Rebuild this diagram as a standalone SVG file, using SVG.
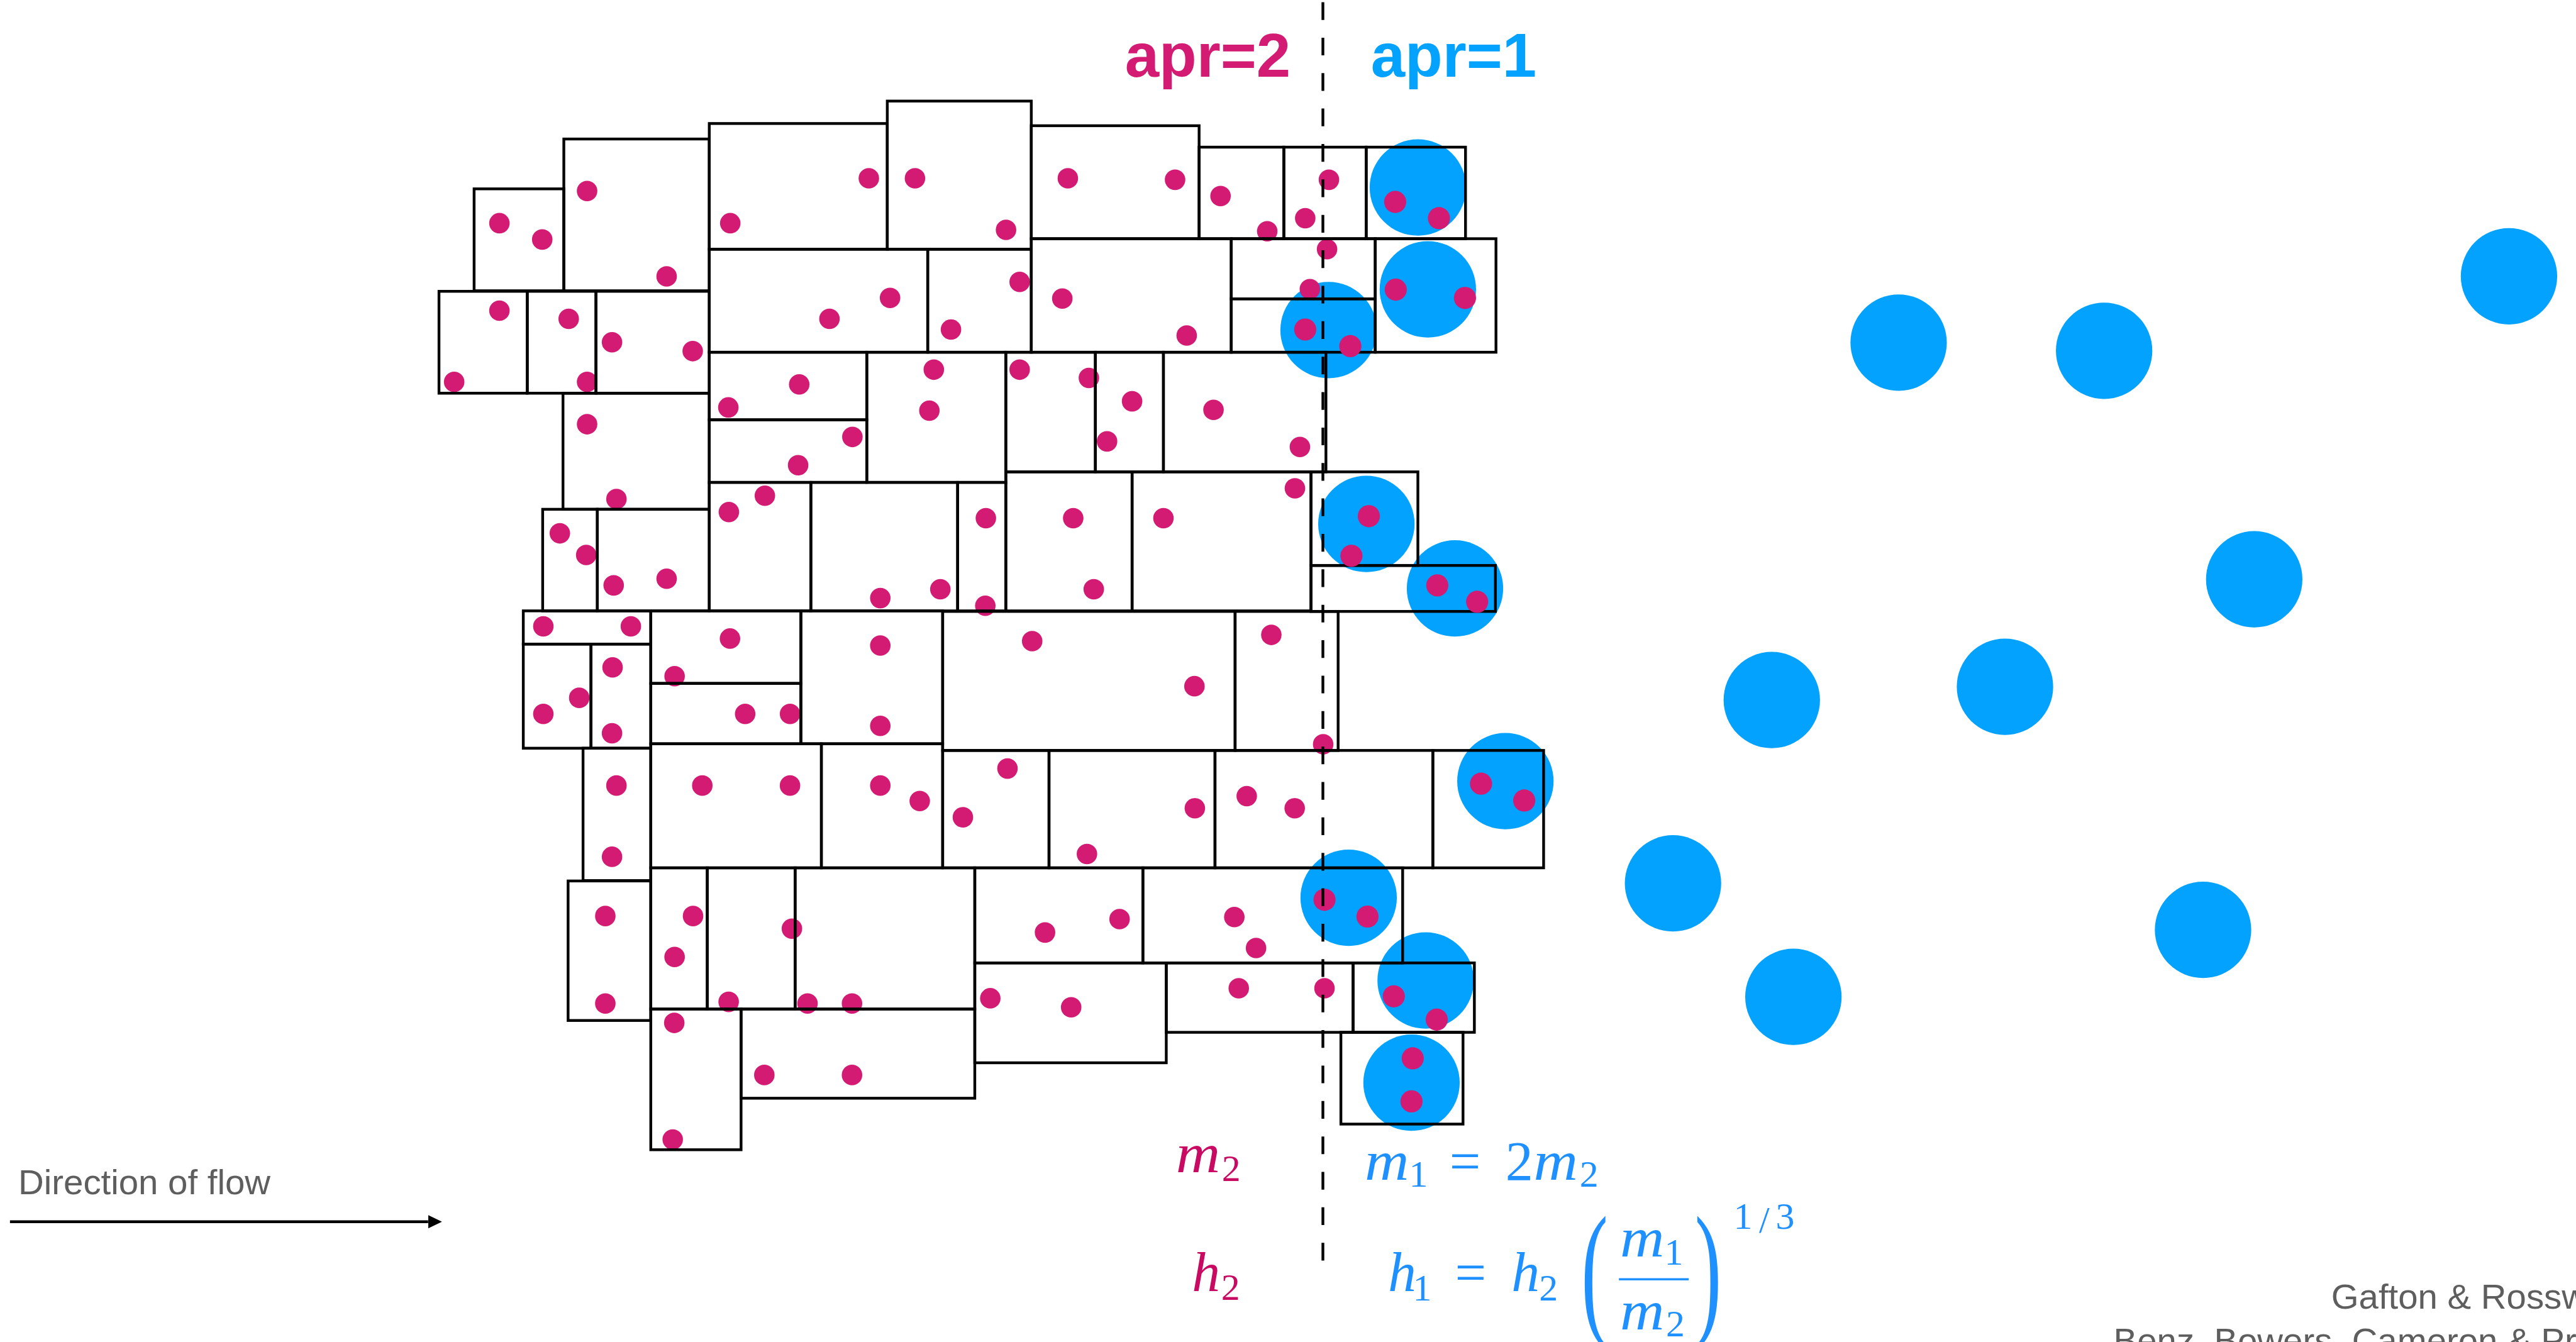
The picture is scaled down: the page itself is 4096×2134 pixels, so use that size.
<svg xmlns="http://www.w3.org/2000/svg" width="4096" height="2134" viewBox="0 0 4096 2134">
<style>
.cell{fill:none;stroke:#000;stroke-width:5}
.d{fill:#D41B73}
.bl{fill:#D41B73}
.big{fill:#02A2FE}
.lab{font-family:"Liberation Sans",Arial,sans-serif;font-weight:bold;font-size:111px}
.cap{font-family:"Liberation Sans",Arial,sans-serif;font-size:64px;fill:#5E5E5E}
.mi{font-family:"Liberation Serif","Times New Roman",serif;font-style:italic;font-size:102px}
.mn{font-family:"Liberation Serif","Times New Roman",serif;font-size:100px}
.sb{font-family:"Liberation Serif","Times New Roman",serif;font-size:68px}
.mg{fill:#C80A62}
.bu{fill:#1E90FF}
</style>
<defs>
<marker id="ah" markerUnits="userSpaceOnUse" markerWidth="26" markerHeight="26" refX="0" refY="12" orient="auto">
<path d="M0,0 L25,12 L0,24 Z" fill="#000"/>
</marker>
</defs>
<g transform="scale(0.880671)">
<g id="apr-labels">
<text id="apr2" class="lab" x="2031" y="139" fill="#D41B73">apr=2</text>
<text id="apr1" class="lab" x="2475" y="139" fill="#02A2FE">apr=1</text>
</g>
<g id="apr1-particles">
<circle class="big" cx="2560" cy="338.6" r="87"/>
<circle class="big" cx="2578" cy="522.5" r="87"/>
<circle class="big" cx="2398.7" cy="596" r="87"/>
<circle class="big" cx="2467" cy="946" r="87"/>
<circle class="big" cx="2627" cy="1062.5" r="87"/>
<circle class="big" cx="2718" cy="1410.5" r="87"/>
<circle class="big" cx="2435" cy="1621" r="87"/>
<circle class="big" cx="2574" cy="1770.4" r="87"/>
<circle class="big" cx="2548.5" cy="1955" r="87"/>
<circle class="big" cx="4530" cy="498.8" r="87"/>
<circle class="big" cx="3428" cy="618.7" r="87"/>
<circle class="big" cx="3799" cy="633.4" r="87"/>
<circle class="big" cx="4070" cy="1046" r="87"/>
<circle class="big" cx="3199" cy="1264" r="87"/>
<circle class="big" cx="3620" cy="1240" r="87"/>
<circle class="big" cx="3020.6" cy="1595" r="87"/>
<circle class="big" cx="3977.6" cy="1679" r="87"/>
<circle class="big" cx="3238" cy="1800" r="87"/>
</g>
<g id="apr2-particles">
<circle class="d" cx="901.7" cy="403" r="18.5"/>
<circle class="d" cx="979" cy="432.5" r="18.5"/>
<circle class="d" cx="1060" cy="345" r="18.5"/>
<circle class="d" cx="1203.6" cy="499" r="18.5"/>
<circle class="d" cx="1568.7" cy="322" r="18.5"/>
<circle class="d" cx="1652" cy="322" r="18.5"/>
<circle class="d" cx="1318.5" cy="403" r="18.5"/>
<circle class="d" cx="1607" cy="538" r="18.5"/>
<circle class="d" cx="1497.6" cy="575.7" r="18.5"/>
<circle class="d" cx="901.7" cy="561" r="18.5"/>
<circle class="d" cx="1026.8" cy="575.7" r="18.5"/>
<circle class="d" cx="1105" cy="618" r="18.5"/>
<circle class="d" cx="1250.7" cy="634" r="18.5"/>
<circle class="d" cx="820" cy="689.6" r="18.5"/>
<circle class="d" cx="1060" cy="689.6" r="18.5"/>
<circle class="d" cx="1443" cy="694" r="18.5"/>
<circle class="d" cx="1315" cy="735.7" r="18.5"/>
<circle class="d" cx="1928" cy="322" r="18.5"/>
<circle class="d" cx="2121.6" cy="324.6" r="18.5"/>
<circle class="d" cx="1816.4" cy="415" r="18.5"/>
<circle class="d" cx="2203.7" cy="354" r="18.5"/>
<circle class="d" cx="2288" cy="417.5" r="18.5"/>
<circle class="d" cx="2356.6" cy="394" r="18.5"/>
<circle class="d" cx="2399.4" cy="324.6" r="18.5"/>
<circle class="d" cx="2396" cy="450" r="18.5"/>
<circle class="d" cx="2365" cy="522" r="18.5"/>
<circle class="d" cx="1841" cy="509" r="18.5"/>
<circle class="d" cx="1918" cy="539" r="18.5"/>
<circle class="d" cx="1717" cy="595" r="18.5"/>
<circle class="d" cx="2142.6" cy="605.7" r="18.5"/>
<circle class="d" cx="1686" cy="667.5" r="18.5"/>
<circle class="d" cx="1841" cy="667.5" r="18.5"/>
<circle class="d" cx="1966" cy="682.5" r="18.5"/>
<circle class="d" cx="2044" cy="724.6" r="18.5"/>
<circle class="d" cx="2191" cy="740" r="18.5"/>
<circle class="d" cx="1678" cy="741.5" r="18.5"/>
<circle class="d" cx="1539" cy="789" r="18.5"/>
<circle class="d" cx="1441" cy="840" r="18.5"/>
<circle class="d" cx="1060" cy="766" r="18.5"/>
<circle class="d" cx="1113" cy="901" r="18.5"/>
<circle class="d" cx="1316" cy="924.5" r="18.5"/>
<circle class="d" cx="1381" cy="895" r="18.5"/>
<circle class="d" cx="1010.8" cy="963" r="18.5"/>
<circle class="d" cx="1058.4" cy="1002" r="18.5"/>
<circle class="d" cx="1108" cy="1057" r="18.5"/>
<circle class="d" cx="1203.6" cy="1045" r="18.5"/>
<circle class="d" cx="1589.4" cy="1080" r="18.5"/>
<circle class="d" cx="981" cy="1131" r="18.5"/>
<circle class="d" cx="1139" cy="1131" r="18.5"/>
<circle class="d" cx="1318" cy="1153" r="18.5"/>
<circle class="d" cx="1218" cy="1221" r="18.5"/>
<circle class="d" cx="1106" cy="1205" r="18.5"/>
<circle class="d" cx="1045.8" cy="1260" r="18.5"/>
<circle class="d" cx="981" cy="1289" r="18.5"/>
<circle class="d" cx="1105" cy="1324" r="18.5"/>
<circle class="d" cx="1345.4" cy="1289" r="18.5"/>
<circle class="d" cx="1426.4" cy="1289" r="18.5"/>
<circle class="d" cx="1589.4" cy="1165.6" r="18.5"/>
<circle class="d" cx="1589.4" cy="1310.7" r="18.5"/>
<circle class="d" cx="1998.8" cy="797" r="18.5"/>
<circle class="d" cx="2347" cy="807" r="18.5"/>
<circle class="d" cx="2338" cy="881.7" r="18.5"/>
<circle class="d" cx="1780" cy="935.7" r="18.5"/>
<circle class="d" cx="1937.7" cy="935.7" r="18.5"/>
<circle class="d" cx="2100.6" cy="935.7" r="18.5"/>
<circle class="d" cx="1697.8" cy="1064" r="18.5"/>
<circle class="d" cx="1779" cy="1093.7" r="18.5"/>
<circle class="d" cx="1974.8" cy="1064" r="18.5"/>
<circle class="d" cx="1863.6" cy="1157.6" r="18.5"/>
<circle class="d" cx="2156.6" cy="1239" r="18.5"/>
<circle class="d" cx="2295.4" cy="1146.4" r="18.5"/>
<circle class="d" cx="2389" cy="1343.8" r="18.5"/>
<circle class="d" cx="1819" cy="1387.7" r="18.5"/>
<circle class="d" cx="1113" cy="1418.4" r="18.5"/>
<circle class="d" cx="1268" cy="1418.4" r="18.5"/>
<circle class="d" cx="1426.4" cy="1418.4" r="18.5"/>
<circle class="d" cx="1589.4" cy="1418.4" r="18.5"/>
<circle class="d" cx="1660.6" cy="1446.4" r="18.5"/>
<circle class="d" cx="1105" cy="1547" r="18.5"/>
<circle class="d" cx="1092.9" cy="1654" r="18.5"/>
<circle class="d" cx="1092.9" cy="1812" r="18.5"/>
<circle class="d" cx="1251.3" cy="1654" r="18.5"/>
<circle class="d" cx="1218" cy="1728" r="18.5"/>
<circle class="d" cx="1429.8" cy="1676.8" r="18.5"/>
<circle class="d" cx="1315.6" cy="1809" r="18.5"/>
<circle class="d" cx="1458" cy="1812" r="18.5"/>
<circle class="d" cx="1538.3" cy="1812" r="18.5"/>
<circle class="d" cx="1217.4" cy="1847" r="18.5"/>
<circle class="d" cx="1380" cy="1941" r="18.5"/>
<circle class="d" cx="1538.3" cy="1941" r="18.5"/>
<circle class="d" cx="1214.6" cy="2057.6" r="18.5"/>
<circle class="d" cx="1738.5" cy="1475.7" r="18.5"/>
<circle class="d" cx="1962.5" cy="1542" r="18.5"/>
<circle class="d" cx="2157.3" cy="1459.4" r="18.5"/>
<circle class="d" cx="2251" cy="1437.5" r="18.5"/>
<circle class="d" cx="2337.6" cy="1459.4" r="18.5"/>
<circle class="d" cx="1886.8" cy="1683.8" r="18.5"/>
<circle class="d" cx="2021.4" cy="1659.6" r="18.5"/>
<circle class="d" cx="2228.6" cy="1655.9" r="18.5"/>
<circle class="d" cx="2267.8" cy="1711.7" r="18.5"/>
<circle class="d" cx="1788" cy="1802.5" r="18.5"/>
<circle class="d" cx="1934" cy="1818.8" r="18.5"/>
<circle class="d" cx="2236.6" cy="1784.4" r="18.5"/>
<circle class="d" cx="2391.4" cy="1784.4" r="18.5"/>
</g>
<g id="cells">
<rect class="cell" x="856" y="341" width="162" height="184"/>
<rect class="cell" x="1018" y="251" width="262.6" height="274"/>
<rect class="cell" x="1280.6" y="223" width="321.4" height="227"/>
<rect class="cell" x="1602" y="182.5" width="260" height="267.5"/>
<rect class="cell" x="1862" y="227" width="303" height="204"/>
<rect class="cell" x="2165" y="265.7" width="153" height="165.3"/>
<rect class="cell" x="2318" y="265.7" width="148.7" height="165.3"/>
<rect class="cell" x="2466.7" y="265.7" width="179.3" height="165.3"/>
<rect class="cell" x="792.6" y="526" width="159.4" height="184"/>
<rect class="cell" x="952" y="526" width="124" height="184"/>
<rect class="cell" x="1076" y="526" width="204.6" height="184"/>
<rect class="cell" x="1280.6" y="450" width="394.4" height="186"/>
<rect class="cell" x="1675" y="450" width="187" height="186"/>
<rect class="cell" x="1862" y="431" width="361" height="205"/>
<rect class="cell" x="2223" y="431" width="260" height="108.6"/>
<rect class="cell" x="2223" y="539.6" width="260" height="96.4"/>
<rect class="cell" x="2483" y="431" width="218" height="205"/>
<rect class="cell" x="1016.5" y="710" width="264.1" height="209.6"/>
<rect class="cell" x="1280.6" y="636" width="284.4" height="122"/>
<rect class="cell" x="1280.6" y="758" width="284.4" height="113"/>
<rect class="cell" x="1565" y="636" width="251" height="235"/>
<rect class="cell" x="1816" y="636" width="161.7" height="216"/>
<rect class="cell" x="1977.7" y="636" width="122.9" height="216"/>
<rect class="cell" x="2100.6" y="636" width="293.4" height="216"/>
<rect class="cell" x="979.8" y="919.6" width="98.7" height="183.4"/>
<rect class="cell" x="1078.5" y="919.6" width="202.1" height="183.4"/>
<rect class="cell" x="1280.6" y="871" width="183.4" height="232"/>
<rect class="cell" x="1464" y="871" width="265" height="232"/>
<rect class="cell" x="1729" y="871" width="87" height="232"/>
<rect class="cell" x="1816" y="852" width="228" height="251"/>
<rect class="cell" x="2044" y="852" width="323" height="251"/>
<rect class="cell" x="2367" y="852" width="193" height="169"/>
<rect class="cell" x="2367" y="1021" width="333" height="83"/>
<rect class="cell" x="944.8" y="1103" width="230.2" height="60"/>
<rect class="cell" x="944.8" y="1163" width="122.2" height="188"/>
<rect class="cell" x="1067" y="1163" width="108" height="188"/>
<rect class="cell" x="1175" y="1103" width="271" height="131"/>
<rect class="cell" x="1175" y="1234" width="271" height="109"/>
<rect class="cell" x="1446" y="1103" width="256" height="240"/>
<rect class="cell" x="1702" y="1104" width="528" height="251"/>
<rect class="cell" x="2230" y="1104" width="186" height="251"/>
<rect class="cell" x="1052.7" y="1351" width="122.3" height="239"/>
<rect class="cell" x="1175" y="1343" width="308" height="224"/>
<rect class="cell" x="1483" y="1343" width="219" height="224"/>
<rect class="cell" x="1702" y="1355" width="192" height="212"/>
<rect class="cell" x="1894" y="1355" width="299.7" height="212"/>
<rect class="cell" x="2193.7" y="1355" width="393.3" height="212"/>
<rect class="cell" x="2587" y="1355" width="200" height="212"/>
<rect class="cell" x="1025.7" y="1590.7" width="149.3" height="251.9"/>
<rect class="cell" x="1175" y="1567" width="102" height="255"/>
<rect class="cell" x="1277" y="1567" width="158.6" height="255"/>
<rect class="cell" x="1435.6" y="1567" width="324.4" height="255"/>
<rect class="cell" x="1760" y="1567" width="303.5" height="171.7"/>
<rect class="cell" x="2063.5" y="1567" width="469" height="171.7"/>
<rect class="cell" x="1175" y="1822" width="163" height="254"/>
<rect class="cell" x="1338" y="1822" width="422" height="161"/>
<rect class="cell" x="1760" y="1738.7" width="345.7" height="180.3"/>
<rect class="cell" x="2105.7" y="1738.7" width="337.3" height="125.3"/>
<rect class="cell" x="2443" y="1738.7" width="219" height="125.3"/>
<rect class="cell" x="2421" y="1864" width="220.5" height="165.7"/>
</g>
<g id="merged-particles">
<circle class="bl" cx="2519" cy="364.6" r="20"/>
<circle class="bl" cx="2598" cy="394" r="20"/>
<circle class="bl" cx="2520" cy="523" r="20"/>
<circle class="bl" cx="2645" cy="538" r="20"/>
<circle class="bl" cx="2356.6" cy="595" r="20"/>
<circle class="bl" cx="2438" cy="625" r="20"/>
<circle class="bl" cx="2471.4" cy="932" r="20"/>
<circle class="bl" cx="2440" cy="1003.6" r="20"/>
<circle class="bl" cx="2595" cy="1057" r="20"/>
<circle class="bl" cx="2667" cy="1086.6" r="20"/>
<circle class="bl" cx="2674" cy="1415" r="20"/>
<circle class="bl" cx="2752" cy="1445.4" r="20"/>
<circle class="bl" cx="2391.4" cy="1624.7" r="20"/>
<circle class="bl" cx="2469" cy="1655" r="20"/>
<circle class="bl" cx="2516.5" cy="1799" r="20"/>
<circle class="bl" cx="2594" cy="1841" r="20"/>
<circle class="bl" cx="2550.7" cy="1911" r="20"/>
<circle class="bl" cx="2548.5" cy="1988.7" r="20"/>
</g>
<g id="connectors">
<line id="divider" x1="2388.5" y1="4" x2="2388.5" y2="2276" stroke="#000" stroke-width="5" stroke-dasharray="32 32"/>
<line id="flow-arrow" x1="18" y1="2206" x2="773" y2="2206" stroke="#000" stroke-width="5" marker-end="url(#ah)"/>
</g>
<g id="flow-label">
<text class="cap" x="33" y="2156">Direction of flow</text>
</g>
<g id="formulas-apr2" class="mg">
<text class="mi" x="2123" y="2117" textLength="80" lengthAdjust="spacingAndGlyphs">m</text>
<text class="sb" x="2206" y="2132">2</text>
<text class="mi" x="2152" y="2331.7">h</text>
<text class="sb" x="2205" y="2346.7">2</text>
</g>
<g id="formulas-apr1" class="bu">
<text class="mi" x="2464" y="2130" textLength="80" lengthAdjust="spacingAndGlyphs">m</text>
<text class="sb" x="2544" y="2143">1</text>
<text class="mn" x="2617" y="2130" font-size="120">=</text>
<text class="mn" x="2718" y="2130">2</text>
<text class="mi" x="2769" y="2130" textLength="80" lengthAdjust="spacingAndGlyphs">m</text>
<text class="sb" x="2852" y="2143">2</text>
<text class="mi" x="2506" y="2331.7">h</text>
<text class="sb" x="2551" y="2347.7">1</text>
<text class="mn" x="2627" y="2331.7" font-size="120">=</text>
<text class="mi" x="2729" y="2331.7">h</text>
<text class="sb" x="2779" y="2347.7">2</text>
<text class="mn" transform="translate(2855,2381) scale(1.45,2.68)">(</text>
<text class="mi" x="2925" y="2269" textLength="80" lengthAdjust="spacingAndGlyphs">m</text>
<text class="sb" x="3005" y="2283">1</text>
<line x1="2923" y1="2310" x2="3049" y2="2310" stroke="#1E90FF" stroke-width="4"/>
<text class="mi" x="2925" y="2400" textLength="80" lengthAdjust="spacingAndGlyphs">m</text>
<text class="sb" x="3008" y="2413">2</text>
<text class="mn" transform="translate(3060,2381) scale(1.45,2.68)">)</text>
<text class="sb" x="3130" y="2219" font-size="64">1</text>
<text class="sb" x="3176" y="2226" font-size="78">/</text>
<text class="sb" x="3206" y="2219" font-size="64">3</text>
</g>
<g id="citation">
<text class="cap" x="4209" y="2363">Gafton &amp; Rosswog</text>
<text class="cap" x="3816" y="2443">Benz, Bowers, Cameron &amp; Press</text>
</g>
</g>
</svg>
